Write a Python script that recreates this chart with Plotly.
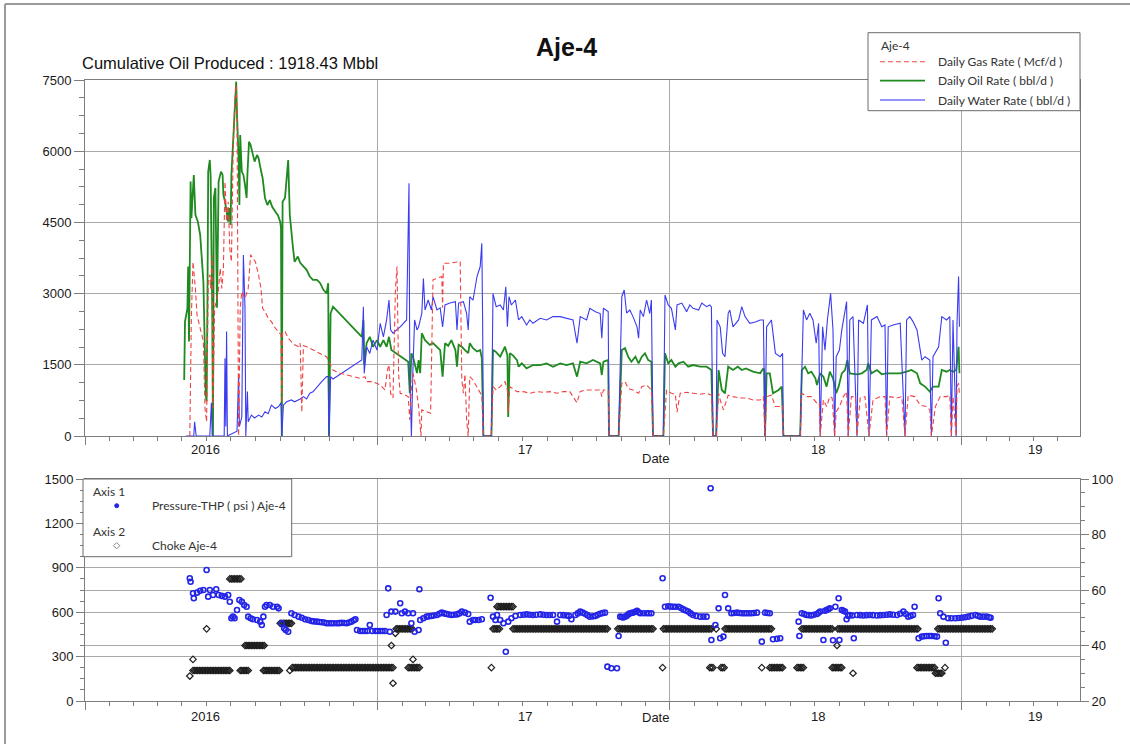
import pandas as pd
import plotly.graph_objects as go

# ---------------------------------------------------------------------------
# Well Aje-4 production history.  Time is stored as days since 2016-01-01.
# ---------------------------------------------------------------------------
START = pd.Timestamp("2016-01-01")
END_DAY = 1243.75

gas_day = [
    131, 133, 135, 138, 140, 144, 148, 150, 152, 154,
    156, 157, 159, 160, 162, 165, 167, 169, 171, 173,
    175, 177, 179, 181, 183, 185, 187, 189, 190, 192,
    194, 196, 200, 204, 207, 210, 213, 217, 220, 222,
    225, 229, 233, 238, 242, 245, 246, 247, 250, 254,
    258, 262, 267, 269, 271, 273, 277, 285, 294, 302,
    306, 310, 319, 327, 335, 344, 350, 352, 360, 369,
    375, 378, 380, 382, 385, 388, 390, 392, 394, 398,
    404, 406, 408, 410, 414, 417, 419, 420, 421, 427,
    432, 435, 441, 446, 447, 448, 456, 465, 469, 471,
    473, 475, 477, 479, 481, 485, 490, 494, 496, 498,
    508, 510, 514, 519, 525, 528, 529, 531, 535, 540,
    548, 556, 565, 573, 581, 590, 598, 606, 615, 619,
    627, 635, 644, 646, 648, 652, 654, 655, 667, 671,
    675, 679, 685, 692, 696, 702, 708, 710, 723, 727,
    733, 738, 740, 744, 752, 760, 769, 777, 783, 785,
    789, 792, 794, 798, 804, 810, 819, 827, 835, 844,
    848, 850, 852, 858, 863, 869, 872, 873, 894, 896,
    902, 908, 915, 918, 919, 923, 927, 931, 934, 937,
    939, 943, 948, 952, 954, 958, 963, 965, 969, 975,
    980, 985, 994, 1000, 1002, 1006, 1015, 1021, 1025, 1029,
    1037, 1044, 1052, 1056, 1058, 1063, 1069, 1077, 1081, 1083,
    1085, 1089, 1090, 1092, 1093]
gas_rate = [
    0, 2550, 3670, 3110, 2550, 2270, 1990, 585, 300, 3250,
    3400, 3110, 3815, 585, 2690, 2900, 3110, 3530, 3110, 3530,
    5360, 4515, 4935, 3955, 3670, 5780, 7045, 7395, 6900, 0,
    2690, 3040, 2900, 3110, 3815, 3740, 3670, 3390, 3110, 2690,
    2620, 2480, 2410, 2270, 2200, 2130, 700, 2200, 2200, 2060,
    1990, 1920, 1880, 1955, 500, 1900, 1880, 1810, 1740, 1670,
    1530, 1390, 1320, 1290, 1250, 1215, 1250, 1145, 1145, 1075,
    970, 1390, 1500, 900, 800, 3075, 3570, 1300, 900, 880,
    830, 340, 1000, 1320, 1000, 620, 200, 0, 550, 520,
    480, 3290, 3320, 3360, 2700, 3640, 3640, 3675, 3675, 1180,
    900, 1300, 340, 0, 1250, 1180, 1040, 900, 850, 0,
    0, 1040, 970, 1040, 1145, 970, 500, 1040, 1000, 935,
    935, 900, 935, 920, 935, 900, 935, 935, 700, 940,
    970, 970, 970, 830, 970, 970, 960, 0, 0, 1110,
    1145, 1000, 970, 900, 1040, 1075, 970, 0, 0, 970,
    900, 880, 500, 900, 920, 900, 880, 900, 860, 0,
    0, 900, 760, 550, 860, 830, 800, 800, 760, 760,
    830, 0, 830, 860, 620, 620, 640, 0, 0, 900,
    830, 830, 690, 700, 0, 760, 620, 830, 800, 0,
    510, 620, 830, 935, 0, 830, 830, 0, 800, 830,
    0, 760, 830, 830, 0, 830, 800, 830, 0, 860,
    830, 650, 620, 550, 0, 620, 830, 830, 860, 0,
    830, 0, 1040, 1110, 900]

oil_day = [
    124, 125, 128, 129, 130, 132, 133, 136, 138, 141,
    144, 146, 148, 151, 152, 153, 154, 156, 157, 159,
    160, 161, 163, 165, 167, 170, 172, 173, 175, 177,
    179, 180, 182, 183, 185, 187, 189, 190, 192, 193,
    194, 196, 198, 200, 202, 203, 205, 207, 210, 212,
    215, 217, 219, 222, 225, 228, 231, 234, 238, 241,
    244, 245, 246, 247, 250, 252, 254, 256, 258, 260,
    262, 266, 269, 273, 277, 281, 285, 290, 294, 298,
    302, 304, 305, 307, 310, 346, 348, 349, 352, 356,
    360, 365, 369, 373, 377, 380, 383, 404, 406, 408,
    410, 415, 417, 419, 421, 425, 431, 435, 440, 444,
    447, 450, 454, 458, 463, 465, 467, 471, 475, 479,
    481, 485, 490, 494, 496, 498, 508, 510, 513, 519,
    525, 528, 529, 531, 535, 540, 542, 546, 552, 560,
    569, 577, 585, 594, 602, 610, 615, 619, 627, 635,
    644, 646, 648, 654, 655, 667, 671, 675, 679, 683,
    688, 692, 696, 700, 704, 708, 710, 723, 725, 729,
    733, 738, 742, 748, 754, 760, 769, 777, 783, 785,
    789, 792, 796, 800, 804, 810, 816, 821, 826, 835,
    844, 848, 849, 850, 852, 856, 860, 867, 871, 873,
    894, 896, 900, 904, 908, 913, 915, 919, 923, 927,
    931, 935, 939, 942, 946, 950, 953, 956, 965, 971,
    977, 979, 983, 990, 996, 1002, 1010, 1019, 1027, 1033,
    1040, 1044, 1050, 1056, 1060, 1067, 1071, 1077, 1081, 1085,
    1089, 1092, 1093]
oil_rate = [
    1180, 2410, 2690, 3570, 1990, 5360, 4590, 5500, 4660, 4520,
    4235, 3810, 3250, 865, 725, 2700, 5570, 5815, 5500, 2700,
    0, 5015, 5225, 2700, 5360, 5570, 5500, 5080, 4940, 4725,
    4515, 4800, 4445, 5500, 6200, 6830, 7465, 6760, 5855, 4865,
    6340, 5570, 5500, 5290, 5015, 5500, 6200, 6130, 5920, 5780,
    5920, 5855, 5675, 5435, 5015, 4865, 4970, 4830, 4725, 4655,
    4515, 4380, 0, 4935, 5015, 5500, 5815, 4655, 4235, 3960,
    3670, 3780, 3650, 3570, 3500, 3360, 3290, 3290, 3220, 3080,
    3005, 3220, 0, 2585, 2725, 2090, 2445, 1500, 1955, 2090,
    1880, 2020, 1880, 2020, 1880, 2090, 1810, 1565, 900, 1740,
    1670, 1325, 1600, 1325, 2165, 2020, 1920, 1955, 1880, 1810,
    1250, 1955, 1900, 2020, 1810, 1460, 1920, 1880, 1810, 1745,
    1955, 1850, 1780, 1810, 1640, 0, 0, 1810, 1780, 1670,
    1880, 1700, 400, 1745, 1700, 1600, 1460, 1530, 1425, 1495,
    1495, 1530, 1460, 1530, 1495, 1530, 1250, 1565, 1530, 1600,
    1530, 1285, 1565, 1600, 0, 0, 1810, 1850, 1670, 1565,
    1670, 1530, 1670, 1740, 1600, 1565, 0, 0, 1745, 1530,
    1600, 1460, 1530, 1565, 1460, 1495, 1460, 1460, 1390, 0,
    0, 1390, 970, 900, 1460, 1390, 1460, 1390, 1425, 1355,
    1320, 1425, 1390, 0, 1320, 1320, 900, 970, 1040, 0,
    0, 1390, 1460, 1320, 1355, 1215, 1075, 1320, 1250, 1040,
    1355, 1215, 900, 1040, 1320, 1390, 1600, 1320, 1300, 1320,
    1390, 1530, 1320, 1390, 1300, 1320, 1320, 1320, 1355, 1390,
    1320, 1110, 1040, 935, 1040, 1040, 1390, 1355, 1390, 1355,
    1390, 1880, 1320]

water_day = [
    126, 136, 137, 139, 156, 158, 159, 174, 175, 176,
    177, 178, 190, 192, 193, 196, 198, 200, 201, 203,
    204, 208, 212, 217, 221, 225, 229, 233, 238, 242,
    245, 246, 248, 252, 258, 262, 269, 273, 277, 281,
    285, 290, 294, 298, 302, 304, 305, 307, 310, 346,
    348, 349, 352, 356, 360, 365, 369, 373, 377, 380,
    382, 385, 394, 402, 404, 405, 406, 408, 410, 412,
    415, 417, 421, 423, 425, 429, 433, 435, 440, 444,
    447, 450, 456, 463, 465, 467, 473, 477, 479, 481,
    485, 490, 494, 496, 497, 498, 508, 510, 514, 519,
    523, 526, 528, 530, 533, 538, 542, 546, 552, 556,
    560, 569, 577, 585, 594, 602, 610, 615, 619, 627,
    631, 638, 644, 646, 648, 654, 655, 667, 671, 674,
    677, 681, 685, 690, 692, 694, 698, 702, 706, 708,
    710, 723, 725, 729, 733, 738, 740, 746, 752, 756,
    760, 767, 771, 777, 781, 783, 785, 789, 790, 794,
    797, 800, 804, 806, 810, 817, 821, 825, 831, 838,
    844, 848, 850, 852, 858, 863, 869, 872, 873, 894,
    898, 902, 906, 910, 914, 917, 919, 922, 925, 928,
    932, 935, 937, 939, 943, 946, 950, 952, 954, 956,
    960, 965, 967, 973, 978, 980, 983, 990, 996, 1000,
    1002, 1004, 1010, 1019, 1025, 1027, 1031, 1035, 1040, 1046,
    1050, 1056, 1058, 1060, 1067, 1071, 1077, 1081, 1083, 1085,
    1089, 1090, 1092, 1093]
water_rate = [
    0, 0, 300, 0, 0, 700, 0, 0, 1640, 200,
    2200, 0, 100, 1285, 200, 400, 3815, 2700, 0, 935,
    300, 440, 380, 440, 400, 510, 470, 650, 580, 620,
    700, 0, 650, 720, 760, 720, 780, 830, 780, 900,
    930, 1040, 1110, 1180, 1250, 1250, 0, 1250, 1200, 1600,
    2725, 1320, 1880, 1740, 2020, 1810, 2375, 2090, 2445, 2865,
    2235, 2165, 2300, 2445, 3920, 5325, 1320, 0, 1460, 2445,
    2235, 2300, 2585, 3320, 2655, 2865, 2655, 2935, 2655, 2700,
    2300, 2760, 2800, 2830, 2235, 2800, 2830, 2585, 2235, 2935,
    2860, 3360, 3570, 4060, 2500, 0, 0, 3000, 2725, 2760,
    2655, 3145, 2300, 2935, 2760, 2865, 2445, 2515, 2340, 2445,
    2375, 2480, 2445, 2515, 2515, 2480, 2445, 1955, 2515, 2445,
    2690, 2620, 2580, 2060, 2690, 2620, 0, 0, 2935, 3075,
    2590, 2655, 2515, 2300, 2060, 2655, 2515, 2865, 2580, 2865,
    0, 0, 2970, 2760, 2690, 2235, 2760, 2800, 2620, 2760,
    2690, 2655, 2800, 2725, 2760, 2720, 0, 0, 2445, 2300,
    1740, 1670, 2585, 2655, 2300, 2445, 2725, 2515, 2375, 2400,
    2445, 2445, 0, 2300, 2445, 1740, 1670, 1740, 0, 0,
    2655, 2445, 2585, 2445, 1955, 2375, 0, 2300, 1810, 2445,
    3005, 2235, 0, 1670, 1810, 2235, 2580, 2830, 0, 2445,
    2515, 0, 2445, 2375, 2760, 0, 2445, 2515, 2300, 2340,
    0, 2300, 2340, 2375, 0, 2445, 2515, 2410, 2235, 1600,
    1670, 1600, 0, 1670, 1880, 2515, 2445, 2515, 0, 2445,
    0, 2375, 3360, 2300]

# Tubing head pressure readings (psi)
pressure_day = [
    131, 132, 135, 136, 140, 144, 148, 152, 154, 156,
    160, 164, 167, 171, 175, 179, 181, 183, 185, 187,
    190, 193, 196, 199, 202, 204, 207, 210, 215, 219,
    221, 223, 225, 227, 231, 235, 240, 242, 246, 249,
    251, 254, 258, 262, 267, 271, 275, 279, 283, 286,
    290, 293, 296, 299, 302, 305, 308, 311, 315, 318,
    321, 324, 327, 330, 333, 336, 338, 340, 344, 347,
    350, 353, 356, 359, 363, 366, 369, 372, 375, 377,
    379, 381, 383, 388, 394, 396, 400, 404, 408, 410,
    412, 417, 418, 419, 423, 427, 430, 433, 436, 440,
    443, 446, 449, 452, 455, 458, 461, 465, 468, 471,
    475, 479, 481, 485, 488, 492, 496, 507, 510, 513,
    515, 519, 523, 526, 529, 533, 538, 544, 548, 552,
    556, 560, 564, 569, 573, 577, 581, 585, 590, 594,
    598, 602, 605, 608, 613, 616, 619, 622, 625, 628,
    631, 635, 638, 641, 644, 647, 650, 653, 658, 665,
    667, 669, 671, 673, 675, 677, 679, 681, 683, 685,
    688, 690, 692, 694, 698, 702, 705, 708, 722, 725,
    729, 732, 735, 738, 742, 745, 748, 751, 754, 757,
    760, 764, 769, 773, 777, 782, 783, 788, 792, 794,
    798, 800, 804, 808, 811, 815, 818, 821, 824, 827,
    830, 833, 836, 840, 846, 850, 853, 856, 860, 865,
    869, 892, 893, 896, 899, 902, 905, 908, 911, 915,
    917, 919, 923, 925, 927, 929, 931, 935, 938, 942,
    943, 946, 948, 950, 952, 954, 956, 959, 961, 965,
    969, 973, 977, 981, 985, 990, 994, 998, 1002, 1006,
    1010, 1015, 1019, 1023, 1026, 1029, 1032, 1035, 1037, 1042,
    1046, 1049, 1052, 1055, 1058, 1062, 1065, 1067, 1069, 1073,
    1076, 1079, 1083, 1088, 1092, 1096, 1100, 1104, 1108, 1113,
    1116, 1119, 1123, 1127, 1130, 1132]
pressure_psi = [
    829, 806, 728, 694, 732, 745, 750, 885, 705, 750,
    716, 755, 716, 710, 705, 716, 671, 559, 570, 559,
    615, 682, 671, 649, 637, 570, 559, 552, 547, 536,
    514, 570, 637, 649, 649, 637, 637, 626, 525, 491,
    480, 468, 593, 581, 570, 563, 552, 547, 541, 538,
    536, 534, 532, 530, 525, 525, 525, 525, 525, 526,
    528, 527, 525, 530, 536, 545, 552, 480, 473, 473,
    473, 473, 514, 473, 473, 473, 473, 473, 473, 581,
    761, 468, 604, 604, 660, 593, 604, 593, 525, 593,
    468, 480, 755, 547, 559, 570, 572, 574, 578, 581,
    590, 597, 592, 588, 584, 581, 583, 585, 592, 604,
    597, 588, 536, 547, 547, 547, 552, 698, 570, 547,
    581, 547, 525, 333, 536, 559, 574, 581, 583, 585,
    583, 581, 583, 585, 583, 581, 581, 581, 536, 581,
    580, 578, 575, 552, 581, 592, 604, 597, 590, 580,
    570, 572, 574, 582, 590, 594, 597, 232, 221, 221,
    439, 570, 567, 565, 570, 574, 585, 593, 595, 597,
    603, 610, 600, 593, 593, 593, 593, 593, 829, 637,
    640, 638, 637, 637, 637, 628, 619, 611, 604, 592,
    581, 575, 570, 570, 570, 1437, 412, 514, 626, 424,
    435, 716, 626, 593, 595, 597, 595, 593, 593, 593,
    593, 593, 595, 597, 401, 597, 595, 593, 417, 420,
    424, 536, 439, 593, 587, 581, 580, 578, 583, 588,
    596, 604, 412, 610, 615, 620, 626, 410, 637, 694,
    412, 615, 610, 604, 552, 575, 581, 578, 424, 581,
    580, 578, 580, 581, 580, 578, 580, 581, 583, 585,
    583, 581, 590, 604, 588, 570, 575, 581, 637, 424,
    435, 437, 439, 439, 439, 437, 435, 694, 593, 570,
    394, 559, 559, 559, 561, 563, 566, 570, 575, 581,
    576, 570, 570, 570, 566, 563]

# Choke setting: held constant over each run, logged every couple of days
choke_run_start = [135, 181, 194, 200, 223, 244, 259, 389, 404, 510, 515, 535,
                   666, 723, 781, 795, 800, 856, 890, 896, 934, 941, 1040, 1063, 1066]
choke_run_end = [181, 196, 204, 225, 244, 259, 385, 410, 419, 519, 535, 653,
                 710, 784, 786, 800, 859, 873, 898, 935, 946, 1041, 1063, 1071, 1134]
choke_run_value = [31, 64, 31, 40, 31, 48, 32, 46, 32, 46, 54, 46,
                   46, 46, 32, 32, 46, 32, 32, 46, 32, 46, 32, 30, 46]
choke_log_step = 2
# Isolated choke readings
choke_spot_day = [131, 135, 152, 256, 383, 385, 388, 410, 508, 722, 789, 846, 940, 960, 1075]
choke_spot_value = [29, 35, 46, 31, 40, 26.4, 44.4, 35, 32, 32, 46, 32, 40, 30, 32]

year_labels = ["2016", "17", "18", "19"]
year_label_day = [150, 550, 916, 1187]

cumulative_oil_mbbl = 1918.43


def to_dates(days):
    return START + pd.to_timedelta(pd.Series(days, dtype=float), unit="D")


choke_day, choke_value = [], []
for s, e, v in zip(choke_run_start, choke_run_end, choke_run_value):
    for d in range(s, e + 1, choke_log_step):
        choke_day.append(d)
        choke_value.append(v)
choke_day += choke_spot_day
choke_value += choke_spot_value

# ---------------------------------------------------------------------------
# Page geometry (pixels) and helpers for placing items in paper coordinates
# ---------------------------------------------------------------------------
FIG_W, FIG_H = 1130, 744
ML, MR, MT, MB = 85, 50, 80, 43
PW = FIG_W - ML - MR
PH = FIG_H - MT - MB


def fx(px):
    return (px - ML) / PW


def fy(py):
    return (FIG_H - MB - py) / PH


FONT = "Liberation Sans, Arial, sans-serif"
LEG_FONT = "Lato, Liberation Sans, sans-serif"
AX = "#7d7d7d"
GRID = "#a9a9a9"
GAS_C = "#f04444"
OIL_C = "#1f8a1f"
WATER_C = "#3b3bf0"
PRES_C = "#2424e8"
CHOKE_C = "#1e1e1e"
TICKF = dict(family=FONT, size=13, color="#1a1a1a")

fig = go.Figure()

# --- rate history (upper panel) ---
fig.add_trace(go.Scatter(x=to_dates(oil_day), y=oil_rate, mode="lines",
                         name="Daily Oil Rate ( bbl/d )",
                         line=dict(color=OIL_C, width=1.8),
                         xaxis="x", yaxis="y", showlegend=False))
fig.add_trace(go.Scatter(x=to_dates(water_day), y=water_rate, mode="lines",
                         name="Daily Water Rate ( bbl/d )",
                         line=dict(color=WATER_C, width=1.1),
                         xaxis="x", yaxis="y", showlegend=False))
fig.add_trace(go.Scatter(x=to_dates(gas_day), y=gas_rate, mode="lines",
                         name="Daily Gas Rate ( Mcf/d )",
                         line=dict(color=GAS_C, width=1.1, dash="5px,3px"),
                         xaxis="x", yaxis="y", showlegend=False))

# --- choke and pressure (lower panel) ---
fig.add_trace(go.Scatter(x=to_dates(choke_day), y=choke_value, mode="markers",
                         name="Choke Aje-4",
                         marker=dict(symbol="diamond-open", size=5, color=CHOKE_C,
                                     line=dict(width=1.2)),
                         xaxis="x2", yaxis="y2", showlegend=False))
fig.add_trace(go.Scatter(x=to_dates(pressure_day), y=pressure_psi, mode="markers",
                         name="Pressure-THP ( psi ) Aje-4",
                         marker=dict(symbol="circle-open", size=5, color=PRES_C,
                                     line=dict(width=1.6)),
                         xaxis="x2", yaxis="y3", showlegend=False))

x_range = [START.strftime("%Y-%m-%d"),
           (START + pd.Timedelta(days=END_DAY)).strftime("%Y-%m-%d %H:%M")]
xa = dict(type="date", range=x_range, tickmode="linear", tick0="2016-01-01",
          dtick="M12", ticks="outside", ticklen=8, tickcolor=AX, tickwidth=1,
          showticklabels=False, showgrid=True, gridcolor=GRID, gridwidth=1,
          showline=True, linecolor=AX, linewidth=1, mirror=True, zeroline=False,
          minor=dict(tickmode="linear", tick0="2016-01-01", dtick="M1",
                     ticks="outside", ticklen=4, tickcolor=AX, showgrid=False))

fig.update_layout(
    width=FIG_W, height=FIG_H, autosize=False,
    margin=dict(l=ML, r=MR, t=MT, b=MB),
    paper_bgcolor="white", plot_bgcolor="white",
    showlegend=False,
    xaxis=dict(**xa, domain=[0, 1], anchor="y"),
    xaxis2=dict(**xa, domain=[0, 1], anchor="y2", matches="x"),
    yaxis=dict(domain=[fy(436), 1], anchor="x", range=[0, 7500],
               tickmode="linear", tick0=0, dtick=1500, ticks="outside",
               ticklen=10, tickcolor=AX, tickfont=TICKF,
               minor=dict(tickmode="linear", tick0=0, dtick=375,
                          ticks="outside", ticklen=5, tickcolor=AX),
               showgrid=True, gridcolor=GRID, showline=True, linecolor=AX,
               mirror=True, zeroline=False),
    yaxis2=dict(domain=[0, fy(479)], anchor="x2", side="right", range=[20, 100],
                tickmode="linear", tick0=20, dtick=20, ticks="outside",
                ticklen=8, tickcolor=AX, tickfont=TICKF,
                minor=dict(tickmode="linear", tick0=20, dtick=5,
                           ticks="outside", ticklen=4, tickcolor=AX),
                showgrid=True, gridcolor=GRID, showline=True, linecolor=AX,
                zeroline=False),
    yaxis3=dict(overlaying="y2", anchor="x2", side="left", range=[0, 1500],
                tickmode="linear", tick0=0, dtick=300, ticks="outside",
                ticklen=8, tickcolor=AX, tickfont=TICKF,
                minor=dict(tickmode="linear", tick0=0, dtick=75,
                           ticks="outside", ticklen=4, tickcolor=AX),
                showgrid=True, gridcolor=GRID, showline=True, linecolor=AX,
                zeroline=False),
)

ann = []
shapes = []

# titles
ann.append(dict(text="<b>Aje-4</b>", x=fx(566), y=fy(47), xref="paper", yref="paper",
                showarrow=False, xanchor="center", yanchor="middle",
                font=dict(family=FONT, size=25, color="#111")))
ann.append(dict(text=f"Cumulative Oil Produced : {cumulative_oil_mbbl:.2f} Mbbl",
                x=fx(80), y=fy(63), xref="paper", yref="paper", showarrow=False,
                xanchor="left", yanchor="middle",
                font=dict(family=FONT, size=16.5, color="#111")))

# date axis labels for both panels
for xref, y_lab, y_title in (("x", fy(449), fy(458)), ("x2", fy(716), fy(718))):
    for lab, d in zip(year_labels, year_label_day):
        ann.append(dict(text=lab, x=(START + pd.Timedelta(days=d)).strftime("%Y-%m-%d"),
                        xref=xref, y=y_lab, yref="paper", showarrow=False,
                        xanchor="center", yanchor="middle", font=TICKF))
    ann.append(dict(text="Date", x=fx(655), y=y_title, xref="paper", yref="paper",
                    showarrow=False, xanchor="center", yanchor="middle", font=TICKF))

# outer page frame (top and left edges)
shapes.append(dict(type="line", xref="paper", yref="paper", x0=fx(5), x1=fx(1130),
                   y0=fy(4), y1=fy(4), line=dict(color="#9a9a9a", width=2)))
shapes.append(dict(type="line", xref="paper", yref="paper", x0=fx(5), x1=fx(5),
                   y0=fy(4), y1=fy(744), line=dict(color="#9a9a9a", width=2)))

# legend for the rate panel
LEGF = dict(family=LEG_FONT, size=12, color="#333")
shapes.append(dict(type="rect", xref="paper", yref="paper", layer="above",
                   x0=fx(868), x1=fx(1080), y0=fy(110.7), y1=fy(32.7),
                   fillcolor="white", line=dict(color="#6a6a6a", width=1)))
ann.append(dict(text="Aje-4", x=fx(879), y=fy(46), xref="paper", yref="paper",
                showarrow=False, xanchor="left", yanchor="middle", font=LEGF))
rate_legend = [("Daily Gas Rate ( Mcf/d )", dict(color=GAS_C, width=1.1, dash="5px,3px"), 61.7),
               ("Daily Oil Rate ( bbl/d )", dict(color=OIL_C, width=1.8), 80.7),
               ("Daily Water Rate ( bbl/d )", dict(color="#7070f4", width=1.3), 100)]
for text, line, py in rate_legend:
    shapes.append(dict(type="line", xref="paper", yref="paper", layer="above",
                       x0=fx(880), x1=fx(925), y0=fy(py), y1=fy(py), line=line))
    ann.append(dict(text=text, x=fx(936), y=fy(py), xref="paper", yref="paper",
                    showarrow=False, xanchor="left", yanchor="middle", font=LEGF))

# legend for the pressure / choke panel
shapes.append(dict(type="rect", xref="paper", yref="paper", layer="above",
                   x0=fx(83), x1=fx(291.7), y0=fy(556.7), y1=fy(479),
                   fillcolor="white", line=dict(color="#6a6a6a", width=1)))
for text, py in (("Axis 1", 491), ("Axis 2", 531.7)):
    ann.append(dict(text=text, x=fx(91), y=fy(py), xref="paper", yref="paper",
                    showarrow=False, xanchor="left", yanchor="middle", font=LEGF))
for text, py in (("Pressure-THP ( psi ) Aje-4", 505.7), ("Choke Aje-4", 545.7)):
    ann.append(dict(text=text, x=fx(150), y=fy(py), xref="paper", yref="paper",
                    showarrow=False, xanchor="left", yanchor="middle", font=LEGF))
shapes.append(dict(type="circle", xref="paper", yref="paper", layer="above",
                   x0=fx(114.7), x1=fx(118.7), y0=fy(507.7), y1=fy(503.7),
                   fillcolor=PRES_C, line=dict(color=PRES_C, width=1)))
cx, cy, h = 116.7, 545.7, 3.2
shapes.append(dict(type="path", xref="paper", yref="paper", layer="above",
                   path=(f"M {fx(cx - h)},{fy(cy)} L {fx(cx)},{fy(cy - h)} "
                         f"L {fx(cx + h)},{fy(cy)} L {fx(cx)},{fy(cy + h)} Z"),
                   line=dict(color="#8a8a8a", width=1)))

fig.update_layout(annotations=ann, shapes=shapes)
fig.write_html("out.html")
